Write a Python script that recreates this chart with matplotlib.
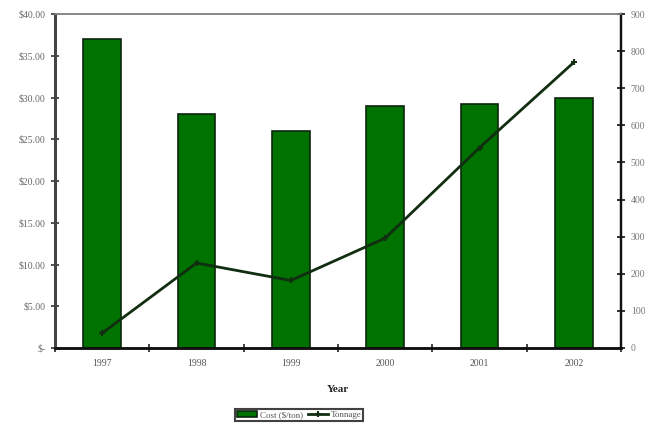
import numpy as np
import matplotlib
matplotlib.use("Agg")
import matplotlib.pyplot as plt

years = ["1997", "1998", "1999", "2000", "2001", "2002"]
cost = [37.0, 28.0, 26.0, 29.0, 29.2, 30.0]
tonnage = [40, 229, 182, 296, 540, 770]

cost_ticks = [0, 5, 10, 15, 20, 25, 30, 35, 40]
cost_labels = ["$-", "$5.00", "$10.00", "$15.00", "$20.00", "$25.00", "$30.00", "$35.00", "$40.00"]
ton_ticks = [0, 100, 200, 300, 400, 500, 600, 700, 800, 900]

plt.rcParams['font.family'] = ['Liberation Serif', 'DejaVu Serif']

fig = plt.figure(figsize=(6.45, 4.28), dpi=100)
ax = fig.add_axes([0.0853, 0.187, 0.8775, 0.78])
ax2 = ax.twinx()

x = np.arange(len(years))
bars = ax.bar(x, cost, width=0.4, color='#007200', edgecolor='#0d260d',
              linewidth=1.2, label='Cost ($/ton)', zorder=2)
ax.set_xlim(-0.5, len(years) - 0.5)
ax.set_ylim(0, 40)
ax.set_yticks(cost_ticks)
ax.set_yticklabels(cost_labels)

# year labels centred under bars, tick marks on the category borders
ax.set_xticks(x)
ax.set_xticklabels(years)
ax.tick_params(axis='x', which='major', length=0, pad=8, labelsize=7, labelcolor='#555555')
ax.set_xticks(np.arange(-0.5, len(years)), minor=True)
ax.tick_params(axis='x', which='minor', direction='inout', length=6, width=1.2, color='#222222')
ax.tick_params(axis='y', direction='inout', length=6, width=1.2, color='#333333',
               labelsize=7, labelcolor='#666666', pad=4)

line, = ax2.plot(x, tonnage, color='#112e11', linewidth=2.0, marker='+',
                 markersize=5, markeredgewidth=1.5, label='Tonnage', zorder=3)
ax2.set_ylim(0, 900)
ax2.set_yticks(ton_ticks)
ax2.tick_params(axis='y', direction='inout', length=6, width=1.2, color='#111111',
                labelsize=7, labelcolor='#777777', pad=4)

for a in (ax, ax2):
    a.spines['top'].set_color('#888888')
    a.spines['top'].set_linewidth(1.2)
    a.spines['left'].set_color('#444444')
    a.spines['left'].set_linewidth(2.0)
    a.spines['right'].set_color('#111111')
    a.spines['right'].set_linewidth(1.6)
    a.spines['bottom'].set_color('#111111')
    a.spines['bottom'].set_linewidth(1.8)

ax.set_xlabel('Year', fontsize=8, fontweight='bold', labelpad=12, color='#222222')

leg = fig.legend([bars, line], ['Cost ($/ton)', 'Tonnage'], loc='center',
                 bbox_to_anchor=(0.464, 0.03), ncol=2, fontsize=6.5, frameon=True,
                 fancybox=False, edgecolor='#111111', handlelength=2.2,
                 columnspacing=0.6, handletextpad=0.3, borderpad=0.2,
                 labelcolor='#555555')
leg.get_frame().set_linewidth(1.5)

fig.savefig('out.png', dpi=100)
